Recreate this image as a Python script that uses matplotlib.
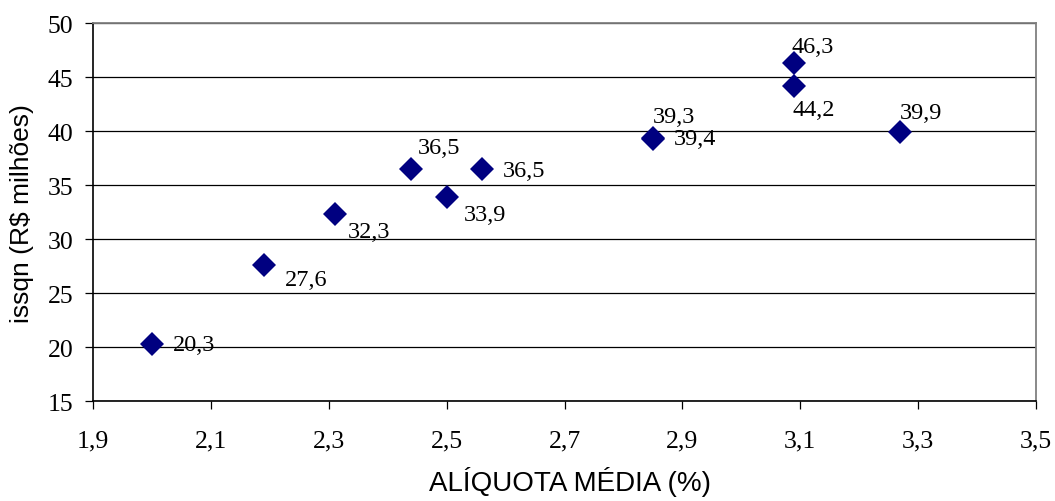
import matplotlib
matplotlib.use('Agg')
import matplotlib.pyplot as plt
from matplotlib.ticker import FuncFormatter

# data
aliquota = [2.00, 2.19, 2.31, 2.44, 2.50, 2.56, 2.85, 2.85, 3.09, 3.09, 3.27]
issqn = [20.3, 27.6, 32.3, 36.5, 33.9, 36.5, 39.3, 39.4, 46.3, 44.2, 39.9]
x_ticks = [1.9, 2.1, 2.3, 2.5, 2.7, 2.9, 3.1, 3.3, 3.5]
y_ticks = [15, 20, 25, 30, 35, 40, 45, 50]

# label placement (pixels from the marker, y up)
label_offsets = [(21, 0), (21, -14), (13, -17), (7, 22), (17, -17), (21, -1),
                 (0, 22), (21, -1), (-3, 17), (-2, -24), (-1, 20)]

def br(v, nd=1):
    return f"{v:.{nd}f}".replace('.', ',')

fig = plt.figure(figsize=(10.55, 5.02), dpi=100)
ax = fig.add_axes([93/1055, 1 - 402.3/502, (1036 - 93)/1055, (402.3 - 24.3)/502])

ax.set_xlim(x_ticks[0], x_ticks[-1])
ax.set_ylim(y_ticks[0], y_ticks[-1])
ax.set_xticks(x_ticks)
ax.set_yticks(y_ticks)
ax.xaxis.set_major_formatter(FuncFormatter(lambda v, p: br(v)))
ax.yaxis.set_major_formatter(FuncFormatter(lambda v, p: f"{v:.0f}"))

ax.grid(axis='y', color='black', linewidth=0.9, zorder=1)
ax.set_axisbelow(True)

ax.plot(aliquota, issqn, linestyle='none', marker='D', markersize=12,
        color='#000080', markeredgewidth=0, zorder=3, clip_on=False)

# data labels
px = 0.72
for x, y, (dx, dy) in zip(aliquota, issqn, label_offsets):
    ax.annotate(br(y), (x, y), xytext=(dx * px, dy * px), textcoords='offset points',
                ha='left', va='center', fontsize=17.5, family='Liberation Serif',
                color='black', zorder=4)

for s in ['top', 'right']:
    ax.spines[s].set_color('#808080')
    ax.spines[s].set_linewidth(1.3)
for s in ['left', 'bottom']:
    ax.spines[s].set_color('black')
    ax.spines[s].set_linewidth(1.2)

ax.tick_params(axis='both', direction='out', length=6, width=0.9, color='black',
               labelsize=18.5)
ax.tick_params(axis='x', pad=14)
ax.tick_params(axis='y', pad=8)
for lab in ax.get_xticklabels() + ax.get_yticklabels():
    lab.set_family('Liberation Serif')

fig.text(22/1055, 1 - 213.5/502, 'issqn (R$ milhões)', rotation=90,
         ha='center', va='center', fontsize=19, family='Liberation Sans')
fig.text(570/1055, 1 - 482/502, 'ALÍQUOTA MÉDIA (%)',
         ha='center', va='center', fontsize=20, family='Liberation Sans')

fig.savefig('out.png', dpi=100)
